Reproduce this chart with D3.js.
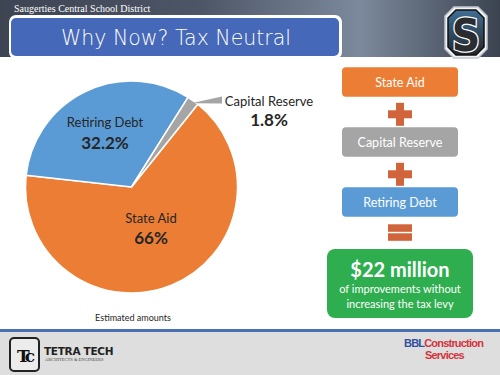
<!DOCTYPE html>
<html>
<head>
<meta charset="utf-8">
<script src="https://cdn.jsdelivr.net/npm/d3@7"></script>
<style>
  body { margin: 0; background: #fff; }
  svg { display: block; }
</style>
</head>
<body>
<div id="chart"></div>
<script>
// Pie data (clockwise, starting from the State Aid / Capital Reserve boundary)
const categories = ["State Aid", "Retiring Debt", "Capital Reserve"];
const shares = [66, 32.2, 1.8];
const shareLabels = ["66%", "32.2%", "1.8%"];

// Right-hand equation boxes
const stepLabels = ["State Aid", "Capital Reserve", "Retiring Debt"];
const stepOperators = ["+", "+", "="];
const totalLabel = "$22 million";
const totalNote = ["of improvements without", "increasing the tax levy"];

const W = 500, H = 375;
const font = "Lato, 'Open Sans', sans-serif";

const color = d3.scaleOrdinal()
  .domain(categories)
  .range(["#ec7d35", "#5b9bd5", "#a5a5a5"]);

const svg = d3.select("#chart")
  .append("svg")
  .attr("width", W)
  .attr("height", H);

const defs = svg.append("defs");
const hg = defs.append("linearGradient").attr("id", "hdr").attr("x1", 0).attr("x2", 1);
hg.append("stop").attr("offset", "0%").attr("stop-color", "#3d4452");
hg.append("stop").attr("offset", "40%").attr("stop-color", "#4d5667");
hg.append("stop").attr("offset", "72%").attr("stop-color", "#7c899c");
hg.append("stop").attr("offset", "100%").attr("stop-color", "#3b4350");

const sg = defs.append("linearGradient").attr("id", "shield").attr("x1", 0).attr("y1", 0).attr("x2", 0).attr("y2", 1);
sg.append("stop").attr("offset", "0%").attr("stop-color", "#3f6f96");
sg.append("stop").attr("offset", "100%").attr("stop-color", "#23262b");

// Header band
svg.append("rect").attr("x", 0).attr("y", 0).attr("width", W).attr("height", 57).attr("fill", "url(#hdr)");

svg.append("text")
  .attr("x", 14).attr("y", 12)
  .attr("fill", "#fff")
  .style("font-family", "'Liberation Serif', serif")
  .style("font-size", "10px")
  .text("Saugerties Central School District");

// Title box
svg.append("rect").attr("x", 9).attr("y", 15).attr("width", 333).attr("height", 44).attr("rx", 7).attr("fill", "#fff");
svg.append("rect").attr("x", 11).attr("y", 18).attr("width", 328).attr("height", 38).attr("rx", 5).attr("fill", "#4668b8");
svg.append("text")
  .attr("x", 176).attr("y", 45)
  .attr("text-anchor", "middle")
  .attr("fill", "#fff")
  .style("font-family", "'DejaVu Sans', sans-serif")
  .style("font-weight", 200)
  .style("font-size", "20.5px")
  .text("Why Now? Tax Neutral");

// School logo
const oct = (x, y, w, h, c) => [
  [x + c, y], [x + w - c, y], [x + w, y + c], [x + w, y + h - c],
  [x + w - c, y + h], [x + c, y + h], [x, y + h - c], [x, y + c]
];
const logo = svg.append("g");
logo.append("polygon").attr("points", oct(445, 7, 42, 51, 9).join(" "))
  .attr("fill", "#f2f2f2").attr("stroke", "#bfc6cf").attr("stroke-width", 1.5);
logo.append("polygon").attr("points", oct(448, 10, 36, 45, 8).join(" "))
  .attr("fill", "url(#shield)").attr("stroke", "#111").attr("stroke-width", 1.5);
logo.append("text")
  .attr("x", 466).attr("y", 51)
  .attr("text-anchor", "middle")
  .attr("fill", "#2a2c30").attr("stroke", "#fff").attr("stroke-width", 2.5)
  .attr("paint-order", "stroke")
  .style("font-family", "'DejaVu Sans Condensed', 'DejaVu Sans', sans-serif")
  .style("font-weight", "bold")
  .style("font-size", "44px")
  .text("S");

// Pie
const cx = 131.5, cy = 187, r = 106;
const pie = d3.pie()
  .sort(null)
  .value(d => d.value)
  .startAngle(38.7 * Math.PI / 180)
  .endAngle(38.7 * Math.PI / 180 + 2 * Math.PI);
const arc = d3.arc().innerRadius(0).outerRadius(r);
const pieData = pie(categories.map((c, i) => ({ name: c, value: shares[i], label: shareLabels[i] })));

const pg = svg.append("g").attr("transform", `translate(${cx},${cy})`);
pg.selectAll("path")
  .data(pieData)
  .enter()
  .append("path")
  .attr("d", arc)
  .attr("fill", d => color(d.data.name))
  .attr("stroke", "#fff")
  .attr("stroke-width", 1.5);

// Slice labels (inside for the two big slices, outside for the small one)
const labelPos = {
  "State Aid": [151, 223, 244],
  "Retiring Debt": [105, 127, 149],
  "Capital Reserve": [269, 106, 126]
};
pieData.forEach(d => {
  const p = labelPos[d.data.name];
  svg.append("text")
    .attr("x", p[0]).attr("y", p[1])
    .attr("text-anchor", "middle")
    .attr("fill", "#262626")
    .style("font-family", font)
    .style("font-size", "13px")
    .text(d.data.name);
  svg.append("text")
    .attr("x", p[0]).attr("y", p[2])
    .attr("text-anchor", "middle")
    .attr("fill", "#262626")
    .style("font-family", font)
    .style("font-weight", "bold")
    .style("font-size", "17px")
    .text(d.data.label);
});

// Wedge-shaped leader for the small slice
const small = pieData.find(d => d.data.name === "Capital Reserve");
const mid = (small.startAngle + small.endAngle) / 2;
const tip = [cx + Math.sin(mid) * r * 0.97, cy - Math.cos(mid) * r * 0.97];
svg.append("path")
  .attr("d", `M${tip[0]},${tip[1]} L222,96.5 L222,103.5 Z`)
  .attr("fill", "#a5a5a5");

svg.append("text")
  .attr("x", 133).attr("y", 321)
  .attr("text-anchor", "middle")
  .attr("fill", "#262626")
  .style("font-family", font)
  .style("font-size", "9px")
  .text("Estimated amounts");

// Equation boxes on the right
const bx = 342, bw = 116, bh = 29.5;
const boxY = d3.scalePoint().domain(stepLabels).range([67.3, 187.3]);
const opColor = "#d0643a";

stepLabels.forEach((s, i) => {
  const y = boxY(s);
  svg.append("rect")
    .attr("x", bx).attr("y", y).attr("width", bw).attr("height", bh).attr("rx", 4)
    .attr("fill", color(s));
  svg.append("text")
    .attr("x", bx + bw / 2).attr("y", y + bh / 2 + 4.5)
    .attr("text-anchor", "middle")
    .attr("fill", "#fff")
    .style("font-family", font)
    .style("font-size", "12.5px")
    .text(s);

  const oy = y + bh + 6;
  const ox = 400;
  if (stepOperators[i] === "+") {
    svg.append("rect").attr("x", ox - 12).attr("y", oy + 7.5).attr("width", 24).attr("height", 8).attr("fill", opColor);
    svg.append("rect").attr("x", ox - 4).attr("y", oy).attr("width", 8).attr("height", 23).attr("fill", opColor);
  } else {
    svg.append("rect").attr("x", ox - 12).attr("y", oy + 1.5).attr("width", 24).attr("height", 7.5).attr("fill", opColor);
    svg.append("rect").attr("x", ox - 12).attr("y", oy + 10.5).attr("width", 24).attr("height", 7.5).attr("fill", opColor);
  }
});

// Total box
svg.append("rect")
  .attr("x", 327).attr("y", 249).attr("width", 146).attr("height", 69).attr("rx", 8)
  .attr("fill", "#2eae4f");
svg.append("text")
  .attr("x", 400).attr("y", 277)
  .attr("text-anchor", "middle")
  .attr("fill", "#fff")
  .style("font-family", font)
  .style("font-weight", "bold")
  .style("font-size", "20px")
  .text(totalLabel);
totalNote.forEach((t, i) => {
  svg.append("text")
    .attr("x", 400).attr("y", 293 + i * 15)
    .attr("text-anchor", "middle")
    .attr("fill", "#fff")
    .style("font-family", font)
    .style("font-size", "11px")
    .text(t);
});

// Footer
svg.append("rect").attr("x", 0).attr("y", 329).attr("width", W).attr("height", 3).attr("fill", "#4a6fb5");
svg.append("rect").attr("x", 0).attr("y", 332).attr("width", W).attr("height", H - 332).attr("fill", "#dedede");

svg.append("rect").attr("x", 10).attr("y", 338).attr("width", 29).attr("height", 33).attr("rx", 4)
  .attr("fill", "#ececec").attr("stroke", "#222").attr("stroke-width", 2);
svg.append("text")
  .attr("x", 24.5).attr("y", 362)
  .attr("text-anchor", "middle")
  .attr("fill", "#111")
  .style("font-family", "'DejaVu Serif', serif")
  .style("font-weight", "bold")
  .style("font-size", "17px")
  .style("letter-spacing", "-3px")
  .text("Tc");
svg.append("text")
  .attr("x", 44).attr("y", 355)
  .attr("fill", "#222")
  .style("font-family", "'DejaVu Sans', sans-serif")
  .style("font-weight", "bold")
  .style("font-size", "10.5px")
  .style("letter-spacing", "-0.3px")
  .text("TETRA TECH");
svg.append("text")
  .attr("x", 45).attr("y", 361)
  .attr("fill", "#444")
  .style("font-family", "'Liberation Serif', serif")
  .style("font-size", "4.5px")
  .text("ARCHITECTS & ENGINEERS");

const bbl = svg.append("text")
  .attr("x", 404).attr("y", 347)
  .style("font-family", "'Liberation Sans', sans-serif")
  .style("font-weight", "bold")
  .style("font-size", "11px")
  .style("letter-spacing", "-0.8px");
bbl.append("tspan").attr("fill", "#2f4fa2").text("BBL");
bbl.append("tspan").attr("fill", "#d4343c").text("Construction");
svg.append("text")
  .attr("x", 425).attr("y", 358.5)
  .attr("fill", "#d4343c")
  .style("font-family", "'Liberation Sans', sans-serif")
  .style("font-weight", "bold")
  .style("font-size", "11px")
  .style("letter-spacing", "-0.8px")
  .text("Services");
</script>
</body>
</html>
